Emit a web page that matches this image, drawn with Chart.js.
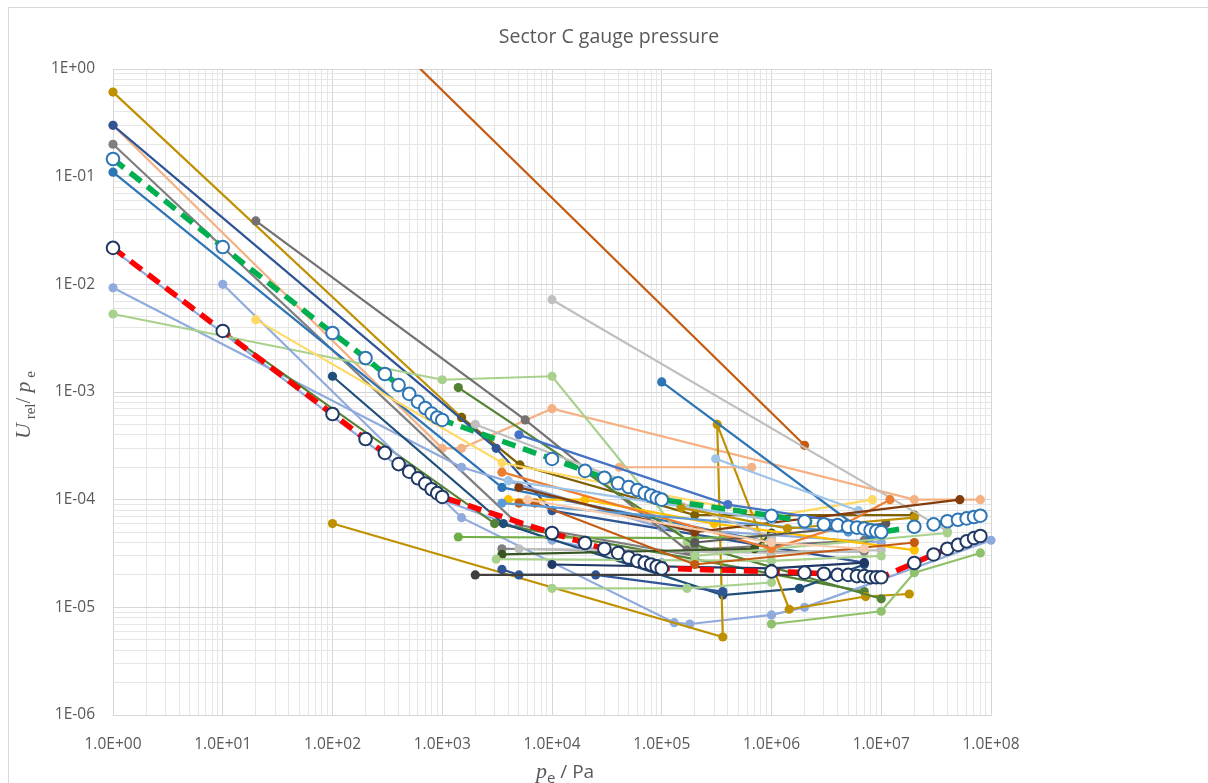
<!DOCTYPE html>
<html>
<head>
<meta charset="utf-8">
<script src="https://cdn.jsdelivr.net/npm/chart.js@4.4.1/dist/chart.umd.min.js"></script>
<style>
  html, body { margin: 0; padding: 0; background: #fff; overflow: hidden; }
  #frame { position: absolute; left: 8px; top: 7px; width: 1260px; height: 820px; border: 1px solid #d9d9d9; }
  #wrap { position: absolute; left: 0; top: 0; width: 1208px; height: 783px; }
</style>
</head>
<body>
<div id="frame"></div>
<div id="wrap"><canvas id="chart" width="1208" height="783"></canvas></div>
<script>
// axis range (decades)
const xDecades = [0, 8]
const yDecades = [-6, 0]

// reference curves (pressure in Pa, relative uncertainty)
const refX = [1, 10, 100, 200, 300, 400, 500, 600, 700, 800, 900, 1000,
  1e4, 2e4, 3e4, 4e4, 5e4, 6e4, 7e4, 8e4, 9e4, 1e5,
  1e6, 2e6, 3e6, 4e6, 5e6, 6e6, 7e6, 8e6, 9e6, 1e7,
  2e7, 3e7, 4e7, 5e7, 6e7, 7e7, 8e7]
const refUpperY = [0.146, 0.0222, 0.00353, 0.00207, 0.00147, 0.00116, 9.6e-4, 8.1e-4, 7.1e-4, 6.3e-4, 5.8e-4, 5.5e-4,
  2.39e-4, 1.85e-4, 1.6e-4, 1.42e-4, 1.31e-4, 1.23e-4, 1.15e-4, 1.09e-4, 1.04e-4, 1.0e-4,
  7.1e-5, 6.3e-5, 5.9e-5, 5.8e-5, 5.6e-5, 5.5e-5, 5.4e-5, 5.2e-5, 5.1e-5, 5.0e-5,
  5.6e-5, 5.9e-5, 6.3e-5, 6.5e-5, 6.7e-5, 6.9e-5, 7.1e-5]
const refLowerY = [0.0218, 0.00369, 6.25e-4, 3.66e-4, 2.72e-4, 2.14e-4, 1.82e-4, 1.58e-4, 1.41e-4, 1.25e-4, 1.15e-4, 1.06e-4,
  4.9e-5, 3.96e-5, 3.5e-5, 3.2e-5, 2.9e-5, 2.7e-5, 2.6e-5, 2.5e-5, 2.4e-5, 2.3e-5,
  2.15e-5, 2.1e-5, 2.05e-5, 2.0e-5, 2.0e-5, 1.95e-5, 1.95e-5, 1.9e-5, 1.9e-5, 1.9e-5,
  2.58e-5, 3.1e-5, 3.5e-5, 3.8e-5, 4.1e-5, 4.4e-5, 4.6e-5]

// individual gauges, [pressure, relative uncertainty]
const goldTop = [[1, 0.61], [1.5e3, 5.8e-4]]
const olive = [[1.5e3, 5.8e-4], [5.1e3, 2.1e-4], [2.0e5, 7.2e-5], [2.0e7, 7.2e-5]]
const navyTop = [[1, 0.30], [3.1e3, 3.0e-4], [1e4, 7.9e-5], [7e6, 2.6e-5]]
const salmonTop = [[1, 0.30], [1e3, 3.0e-4], [1.5e3, 3.0e-4], [1e4, 7.0e-4], [2e7, 1.0e-4], [8e7, 1.0e-4]]
const grayTop = [[1, 0.20], [5e3, 5.8e-5], [2e5, 3.0e-5]]
const blueTop = [[1, 0.11], [3.5e3, 1.3e-4], [1e6, 4.0e-5]]
const lightBlueA = [[1, 0.0093], [1.5e3, 2.0e-4], [1e5, 5.5e-5], [1e7, 4.0e-5]]
const lightBlueUnder = [[1, 0.021], [1e3, 1.0e-4], [1e4, 4.2e-5], [1e5, 2.6e-5]]
const darkGreenA = [[10, 0.0037], [3e3, 6.0e-5], [2e5, 2.8e-5], [7e6, 1.4e-5]]
const lightGreenA = [[1, 0.0053], [1e3, 1.3e-3], [1e4, 1.4e-3], [1.7e5, 4.0e-5]]
const lightBlueB = [[10, 0.010], [1.5e3, 6.8e-5], [1.3e5, 7.2e-6], [1.8e5, 7.0e-6], [1e6, 8.5e-6], [2e6, 1.0e-5], [1e8, 4.2e-5]]
const grayB = [[20, 0.0388], [5.7e3, 5.5e-4], [1.7e5, 3.4e-5], [7e6, 4.2e-5]]
const yellowA = [[20, 0.0047], [3.5e3, 2.2e-4], [1e6, 7.0e-5], [8.3e6, 1.0e-4]]
const navyB = [[100, 0.0014], [3.6e3, 6.0e-5], [3.6e5, 1.3e-5], [1.8e6, 1.5e-5], [7e6, 2.5e-5]]
const goldB = [[100, 6.0e-5], [3.6e5, 5.3e-6], [3.2e5, 5.0e-4], [1.45e6, 9.6e-6], [7.2e6, 1.26e-5], [1.8e7, 1.33e-5]]
const orangeRed = [[30, 21], [2e6, 3.2e-4]]
const lightGrayA = [[1e4, 7.2e-3], [4e7, 5.1e-5]]
const blueB = [[1e5, 1.24e-3], [8e6, 4.5e-5]]
const salmonB = [[4.1e4, 2.0e-4], [6.6e5, 2.0e-4]]
const skyA = [[3.1e5, 2.4e-4], [6.2e6, 7.9e-5]]
const darkGreenB = [[1.4e3, 1.1e-3], [2e5, 3.8e-5], [1e7, 1.2e-5]]
const greenH = [[1.4e3, 4.5e-5], [2e5, 4.4e-5], [1e6, 4.6e-5]]
const grayH = [[3.5e3, 3.5e-5], [2e5, 3.3e-5], [7e6, 3.3e-5]]
const lightGrayH = [[5e3, 3.5e-5], [1e6, 3.2e-5], [1e7, 3.4e-5]]
const darkGreenH = [[3.5e3, 3.1e-5], [7e5, 3.5e-5], [1e6, 4.9e-5]]
const lightGreenH = [[3.1e3, 2.8e-5], [1e6, 2.7e-5], [1e7, 3.0e-5]]
const navyH = [[1e4, 2.5e-5], [1e6, 2.3e-5], [7e6, 2.6e-5]]
const blueH = [[3.5e3, 2.25e-5], [5e3, 2.0e-5], [2.5e4, 2.0e-5], [3.6e5, 1.4e-5]]
const darkGrayH = [[2e3, 2.0e-5], [7e6, 2.0e-5]]
const lightGreenB = [[1e4, 1.5e-5], [1.7e5, 1.5e-5], [1e6, 1.7e-5]]
const lightGreenC = [[1e6, 7.0e-6], [1e7, 9.2e-6], [2e7, 2.1e-5], [8e7, 3.2e-5]]
const lightGreenD = [[2e5, 3.0e-5], [4e7, 4.9e-5]]
const yellowB = [[4e3, 1.0e-4], [2e4, 1.0e-4], [3e5, 6.0e-5], [2e7, 3.4e-5]]
const orangeA = [[3.5e3, 1.8e-4], [1e6, 3.5e-5], [4e6, 5.5e-5], [1.2e7, 1.0e-4]]
const brownA = [[5e3, 1.3e-4], [2e5, 5.0e-5], [5.2e7, 1.0e-4]]
const brownB = [[5e3, 9.3e-5], [7e3, 9.3e-5], [2e5, 2.5e-5], [2e7, 4.0e-5]]
const skyB = [[4e3, 1.5e-4], [1e6, 6.5e-5]]
const skyC = [[3.5e3, 9.3e-5], [5e6, 5.0e-5]]
const blueC = [[5e3, 4.0e-4], [4e5, 9.0e-5], [1e7, 5.5e-5]]
const lightGrayB = [[2e3, 5.0e-4], [1e6, 4.5e-5]]
const darkGrayB = [[2e5, 4.0e-5], [1.1e7, 6.0e-5]]
const peach = [[6e3, 1.0e-4], [1e6, 4.0e-5], [7e6, 3.5e-5]]
const goldC = [[1.5e5, 8.4e-5], [1.4e6, 5.4e-5], [2e7, 6.8e-5]]

const gauges = [
  [goldTop, "#BF9000"], [olive, "#7F6000"], [salmonTop, "#F4B183"], [navyTop, "#2F5597"],
  [grayTop, "#7F7F7F"], [blueTop, "#2E75B6"], [lightBlueA, "#8FAADC"], [lightBlueUnder, "#8FAADC"],
  [darkGreenA, "#548235"], [lightGreenA, "#A9D18E"], [lightBlueB, "#8FAADC"], [grayB, "#767171"],
  [yellowA, "#FFD966"], [navyB, "#1F4E79"], [goldB, "#BF9000"], [orangeRed, "#C55A11"],
  [lightGrayA, "#BFBFBF"], [blueB, "#2E75B6"], [salmonB, "#F4B183"], [skyA, "#9DC3E6"],
  [darkGreenB, "#548235"], [greenH, "#70AD47"], [grayH, "#7F7F7F"], [lightGrayH, "#BFBFBF"],
  [darkGreenH, "#375623"], [lightGreenH, "#A9D18E"], [navyH, "#203864"], [blueH, "#2F5597"],
  [darkGrayH, "#404040"], [lightGreenB, "#A9D18E"], [lightGreenC, "#8FC16A"], [lightGreenD, "#A9D18E"],
  [yellowB, "#FFC000"], [orangeA, "#ED7D31"], [brownA, "#843C0C"], [brownB, "#C55A11"],
  [skyB, "#9DC3E6"], [skyC, "#5B9BD5"], [blueC, "#4472C4"], [lightGrayB, "#BFBFBF"],
  [darkGrayB, "#595959"], [peach, "#F8CBAD"], [goldC, "#BF9000"]
]

// Chart.js paints dataset 0 last, so the two reference curves go first
const datasets = [
  {
    data: refX.map((x, i) => ({ x, y: refUpperY[i] })),
    borderColor: "#00B050",
    borderWidth: 5.5,
    borderDash: [14, 8],
    pointRadius: 6.3,
    pointBorderWidth: 2,
    pointBorderColor: "#2E75B6",
    pointBackgroundColor: "#ffffff",
    showLine: true,
    clip: 9,
  },
  {
    data: refX.map((x, i) => ({ x, y: refLowerY[i] })),
    borderColor: "#FF0000",
    borderWidth: 5.5,
    borderDash: [14, 8],
    pointRadius: 6.3,
    pointBorderWidth: 2,
    pointBorderColor: "#1F3864",
    pointBackgroundColor: "#ffffff",
    showLine: true,
    clip: 9,
  },
]

gauges.slice().reverse().forEach(([pts, color]) => {
  datasets.push({
    data: pts.map(([x, y]) => ({ x, y })),
    borderColor: color,
    backgroundColor: color,
    borderWidth: 2.2,
    pointRadius: 4.6,
    pointBorderWidth: 0,
    showLine: true,
    clip: pts === orangeRed ? 0 : 8,
  })
})

function logTicks(lo, hi) {
  const t = []
  for (let e = lo; e < hi; e++) for (let m = 1; m < 10; m++) t.push({ value: m * Math.pow(10, e) })
  t.push({ value: Math.pow(10, hi) })
  return t
}
const pad2 = (n) => (Math.abs(n) < 10 ? "0" : "") + Math.abs(n)

const gridColor = (c) => (c.index % 9 === 0 ? "#D6D6D6" : "#E6E6E6")

// title and axis titles with sub-scripts
const textPlugin = {
  id: "texts",
  afterDraw(chart) {
    const ctx = chart.ctx
    ctx.save()
    ctx.fillStyle = "#595959"
    ctx.textBaseline = "alphabetic"
    ctx.font = '19.5px "Open Sans"'
    ctx.textAlign = "center"
    ctx.fillText("Sector C gauge pressure", 609, 43)
    ctx.textAlign = "left"

    const rich = (parts) => {
      let w = 0
      parts.forEach((p) => { ctx.font = p.f; w += ctx.measureText(p.t).width })
      let x = -w / 2
      parts.forEach((p) => { ctx.font = p.f; ctx.fillText(p.t, x, p.dy || 0); x += ctx.measureText(p.t).width })
    }
    const it = 'italic 22px "Liberation Serif"'
    const sub = '15px "Liberation Serif"'
    ctx.save()
    ctx.translate(30, 405)
    ctx.rotate(-Math.PI / 2)
    rich([{ t: "U", f: it }, { t: " rel", f: sub, dy: 5 }, { t: "/ ", f: '21px "Liberation Serif"' }, { t: "p", f: it }, { t: " e", f: sub, dy: 5 }])
    ctx.restore()
    ctx.save()
    ctx.translate(565, 778)
    rich([{ t: "p", f: it }, { t: "e", f: '15px "Open Sans"', dy: 5 }, { t: " / Pa", f: '19px "Open Sans"' }])
    ctx.restore()
    ctx.restore()
  },
}

new Chart(document.getElementById("chart"), {
  type: "scatter",
  data: { datasets },
  options: {
    responsive: false,
    animation: false,
    layout: { padding: { top: 69, right: 217, bottom: 0, left: 0 } },
    plugins: { legend: { display: false }, tooltip: { enabled: false } },
    scales: {
      x: {
        type: "logarithmic",
        min: 1,
        max: 1e8,
        afterBuildTicks: (s) => { s.ticks = logTicks(xDecades[0], xDecades[1]) },
        afterFit: (s) => { s.height = 68 },
        grid: { color: gridColor, drawTicks: false, lineWidth: 1 },
        border: { color: "#D6D6D6" },
        ticks: {
          autoSkip: false,
          maxRotation: 0,
          padding: 20,
          color: "#595959",
          font: { family: "Open Sans", size: 15.5 },
          callback: (v, i) => (i % 9 === 0 ? "1.0E+" + pad2(i / 9) : ""),
        },
      },
      y: {
        type: "logarithmic",
        min: 1e-6,
        max: 1,
        afterBuildTicks: (s) => { s.ticks = logTicks(yDecades[0], yDecades[1]) },
        afterFit: (s) => { s.width = 113 },
        grid: { color: gridColor, drawTicks: false, lineWidth: 1 },
        border: { color: "#D6D6D6" },
        ticks: {
          autoSkip: false,
          padding: 18,
          color: "#595959",
          font: { family: "Open Sans", size: 15.5 },
          callback: (v, i) => {
            if (i % 9 !== 0) return ""
            const e = yDecades[0] + i / 9
            return "1E" + (e < 0 ? "-" : "+") + pad2(e)
          },
        },
      },
    },
  },
  plugins: [textPlugin],
})
</script>
</body>
</html>
